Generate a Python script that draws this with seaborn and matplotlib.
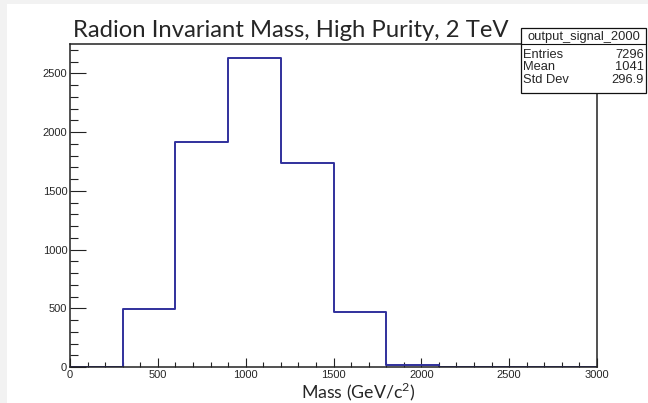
import numpy as np
import pandas as pd
import matplotlib
matplotlib.use("Agg")
import matplotlib.pyplot as plt
from matplotlib.patches import Rectangle
from matplotlib.lines import Line2D
from matplotlib.ticker import MultipleLocator
import seaborn as sns

# Data
bin_edges = [0, 300, 600, 900, 1200, 1500, 1800, 2100, 2400, 2700, 3000]
bin_centers = [150, 450, 750, 1050, 1350, 1650, 1950, 2250, 2550, 2850]
counts = [0, 495, 1915, 2635, 1738, 468, 15, 0, 0, 0]
title = "Radion Invariant Mass, High Purity, 2 TeV"
xlabel = "Mass (GeV/c$^2$)"
stats_name = "output_signal_2000"
stats_labels = ["Entries", "Mean", "Std Dev"]
stats_values = ["7296", "1041", "296.9"]

W, H = 648, 403
sns.set_style("ticks")
plt.rcParams['font.family'] = ['Liberation Sans', 'DejaVu Sans']
plt.rcParams['mathtext.fontset'] = 'custom'
plt.rcParams['mathtext.rm'] = 'Lato'

fig = plt.figure(figsize=(W / 100, H / 100), dpi=100)
fig.patch.set_facecolor('#f2f2f2')
fig.patches.append(Rectangle((7 / W, 0), 1, 1 - 4 / H, transform=fig.transFigure,
                             facecolor='white', edgecolor='none', zorder=-10))

ax = fig.add_axes([70 / W, 1 - 367 / H, (597 - 70) / W, (367 - 44) / H])
ax.set_facecolor('white')

df = pd.DataFrame({"mass": bin_centers, "w": counts})
sns.histplot(data=df, x="mass", weights="w", bins=bin_edges, element="step",
             fill=False, color='#30309c', linewidth=1.4, ax=ax)

ax.set_xlim(0, 3000)
ax.set_ylim(0, 2750)
ax.set_ylabel("")
ax.set_xlabel("")
ax.xaxis.set_major_locator(MultipleLocator(500))
ax.xaxis.set_minor_locator(MultipleLocator(100))
ax.yaxis.set_major_locator(MultipleLocator(500))
ax.yaxis.set_minor_locator(MultipleLocator(100))
ax.tick_params(axis='x', which='major', direction='in', length=6.5, width=0.8,
               labelsize=8, pad=2, color='#222222')
ax.tick_params(axis='x', which='minor', direction='in', length=3.3, width=0.8,
               color='#222222')
ax.tick_params(axis='y', which='major', direction='in', length=11.5, width=0.8,
               labelsize=8, pad=2, color='#222222')
ax.tick_params(axis='y', which='minor', direction='in', length=6, width=0.8,
               color='#222222')
for s in ax.spines.values():
    s.set_color('#222222')
    s.set_linewidth(1.1)
    s.set_visible(True)
    s.set_zorder(5)

# Title and x label
fig.text(73 / W, 1 - 37 / H, title, fontsize=17.2, family=['Lato', 'DejaVu Sans'],
         ha='left', va='baseline')
fig.text(358 / W, 1 - 398.5 / H, xlabel, fontsize=12.8, family=['Lato', 'DejaVu Sans'],
         ha='center', va='baseline')

# Stats box
bx0, bx1, by0, by1 = 521, 646, 28, 93
fig.patches.append(Rectangle((bx0 / W, 1 - by1 / H), (bx1 - bx0) / W, (by1 - by0) / H,
                             transform=fig.transFigure, facecolor='white',
                             edgecolor='#111111', linewidth=0.9, zorder=5))
fig.lines.append(Line2D([bx0 / W, bx1 / W], [1 - 44 / H, 1 - 44 / H],
                        transform=fig.transFigure, color='#111111', linewidth=0.8, zorder=6))
fig.text((bx0 + bx1) / 2 / W, 1 - 37 / H, stats_name, fontsize=9.3, ha='center',
         va='center', zorder=7)
row_y = [55, 67.5, 80]
for lab, val, y in zip(stats_labels, stats_values, row_y):
    fig.text(523 / W, 1 - y / H, lab, fontsize=9.3, ha='left', va='center', zorder=7)
    fig.text(644 / W, 1 - y / H, val, fontsize=9.3, ha='right', va='center', zorder=7)

fig.savefig("out.png", dpi=100)
